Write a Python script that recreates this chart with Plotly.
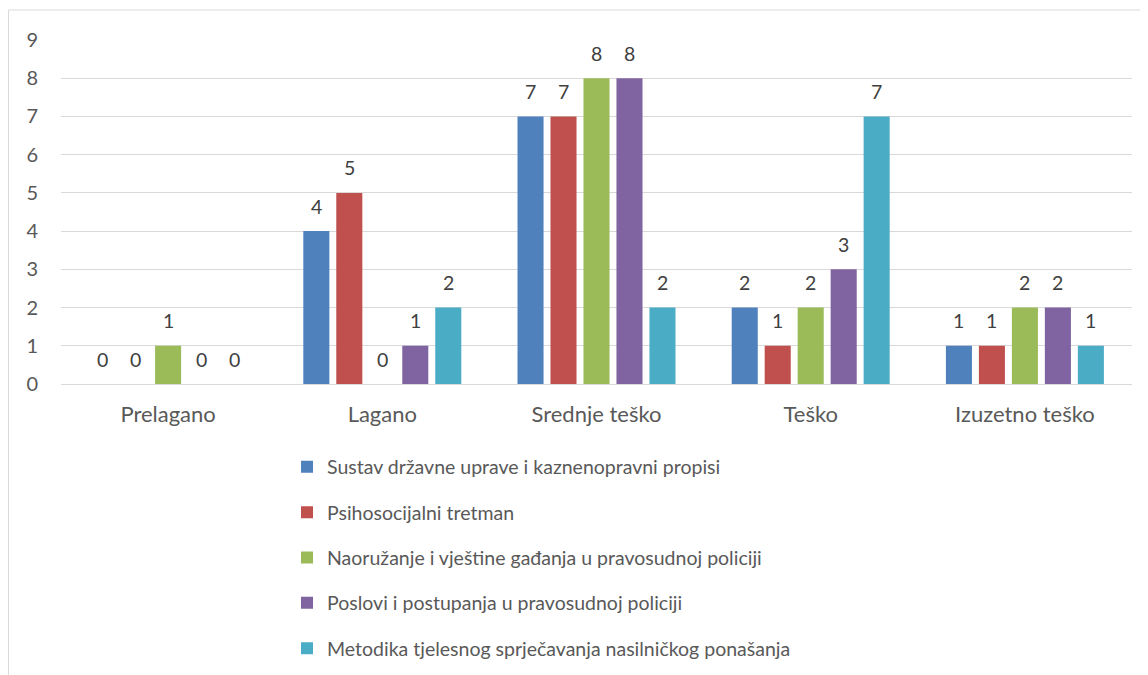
import plotly.graph_objects as go

categories = ["Prelagano", "Lagano", "Srednje teško", "Teško", "Izuzetno teško"]
series_names = [
    "Sustav državne uprave i kaznenopravni propisi",
    "Psihosocijalni tretman",
    "Naoružanje i vještine gađanja u pravosudnoj policiji",
    "Poslovi i postupanja u pravosudnoj policiji",
    "Metodika tjelesnog sprječavanja nasilničkog ponašanja",
]
sustav = [0, 4, 7, 2, 1]
psihosocijalni = [0, 5, 7, 1, 1]
naoruzanje = [1, 0, 8, 2, 2]
poslovi = [0, 1, 8, 3, 2]
metodika = [0, 2, 2, 7, 1]
y_ticks = [0, 1, 2, 3, 4, 5, 6, 7, 8, 9]

values = [sustav, psihosocijalni, naoruzanje, poslovi, metodika]
colors = ["#4f81bd", "#c0504d", "#9bbb59", "#8064a2", "#4bacc6"]

FONT = "Lato, 'Open Sans', sans-serif"
W, H = 1148, 675
ML, MR, MT, MB = 53, 24, 32, 299
BARGAP, BARGROUPGAP = 0.23, 0.21
plot_w = W - ML - MR
plot_h = H - MT - MB
n_series = len(values)
slot_px = plot_w / len(categories) * (1 - BARGAP) / n_series

fig = go.Figure()
annotations = []
for i, (name, vals, col) in enumerate(zip(series_names, values, colors)):
    fig.add_trace(go.Bar(
        x=categories, y=vals, name=name,
        marker=dict(color=col, line=dict(width=0)),
        legendgroup=f"g{i}",
    ))
    for cat, v in zip(categories, vals):
        annotations.append(dict(
            x=cat, y=v, xref="x", yref="y", text=str(v), showarrow=False,
            xshift=(i - (n_series - 1) / 2) * slot_px, yshift=25,
            yanchor="middle", xanchor="center",
            font=dict(size=19.5, color="#404040", family=FONT),
        ))

fig.update_layout(
    width=W, height=H, autosize=False,
    paper_bgcolor="white", plot_bgcolor="white",
    margin=dict(l=ML, r=MR, t=MT, b=MB, autoexpand=False),
    barmode="group", bargap=BARGAP, bargroupgap=BARGROUPGAP,
    font=dict(family=FONT, color="#595959", size=19),
    showlegend=True,
    legend=dict(
        x=(279 - ML) / plot_w, xanchor="left", y=-0.185, yanchor="top",
        orientation="v", traceorder="grouped", tracegroupgap=17,
        font=dict(size=19.5, color="#595959", family=FONT),
        itemwidth=30, bgcolor="rgba(0,0,0,0)",
    ),
    xaxis=dict(showgrid=False, showline=False, ticks="", zeroline=False,
               ticklabelstandoff=15,
               tickfont=dict(size=22, color="#595959")),
    yaxis=dict(range=[0, 9], tickvals=y_ticks, showgrid=True, gridcolor="#d9d9d9",
               gridwidth=1, zeroline=True, zerolinecolor="#d9d9d9", zerolinewidth=1,
               showline=False, ticks="", ticklabelstandoff=22,
               tickfont=dict(size=20, color="#595959")),
    annotations=annotations,
    shapes=[dict(type="rect", xref="paper", yref="paper",
                 x0=(0.5 - ML) / plot_w, x1=(1160 - ML) / plot_w,
                 y0=-1.0, y1=(plot_h + MT - 2) / plot_h,
                 line=dict(color="#d9d9d9", width=1), fillcolor="rgba(0,0,0,0)", layer="below")],
)

fig.write_html("out.html")
